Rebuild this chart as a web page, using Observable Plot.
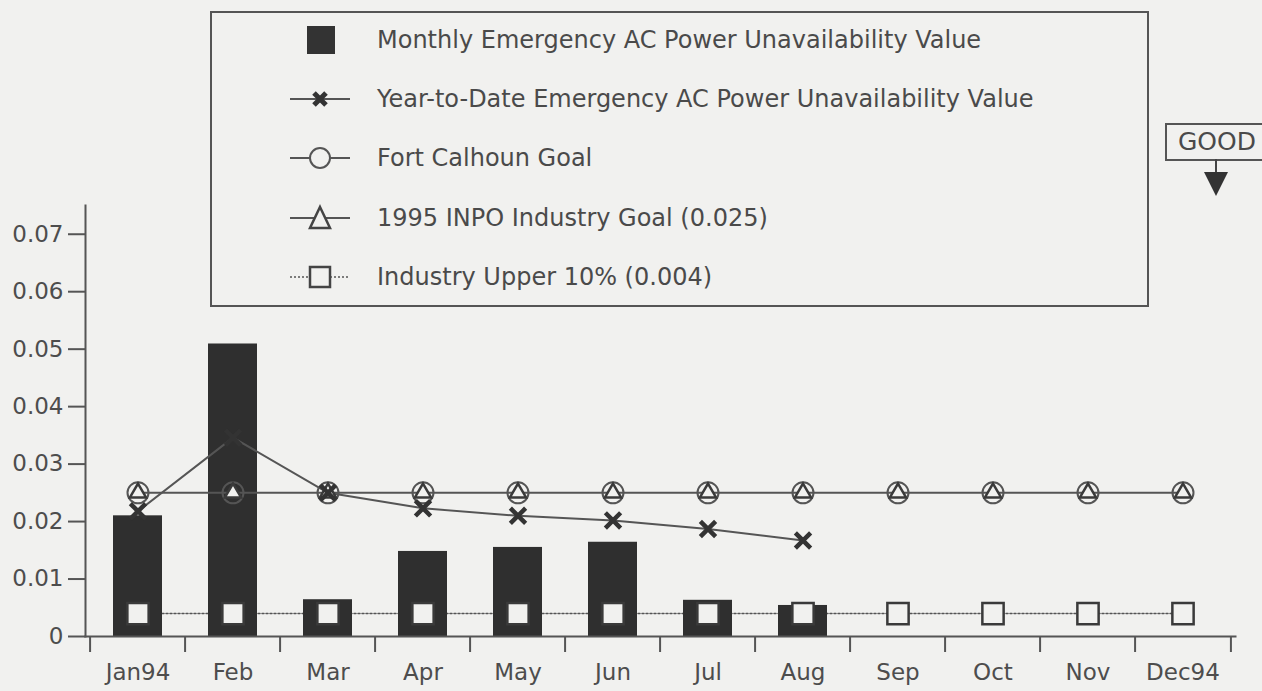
<!DOCTYPE html>
<html>
<head>
<meta charset="utf-8">
<script src="https://cdn.jsdelivr.net/npm/d3@7"></script>
<script src="https://cdn.jsdelivr.net/npm/@observablehq/plot@0.6"></script>
<style>
  html, body { margin: 0; padding: 0; background: #f1f1ef; }
  body { font-family: "DejaVu Sans", sans-serif; color: #4a4a4a; }
  #wrap { position: relative; width: 1262px; height: 691px; overflow: hidden; }
  #chart { position: absolute; left: 0; top: 0; }
  #legend { position: absolute; left: 210px; top: 11px; width: 939px; height: 296px;
            border: 2px solid #555; box-sizing: border-box; }
  .lrow { position: absolute; left: 0; width: 1262px; height: 30px; }
  .lrow svg { position: absolute; left: 286px; top: 0; }
  .lrow span { position: absolute; left: 377px; top: 0; line-height: 30px; font-size: 24px; white-space: nowrap; }
  #good { position: absolute; left: 1165px; top: 123px; width: 110px; height: 38px;
          border: 2px solid #555; box-sizing: border-box; font-size: 25px; line-height: 34px;
          padding-left: 11px; }
  #arrow { position: absolute; left: 1200px; top: 159px; }
</style>
</head>
<body>
<div id="wrap">
  <div id="chart"></div>
  <div id="legend"></div>
  <div id="legendRows"></div>
  <div id="good">GOOD</div>
  <svg id="arrow" width="32" height="40">
    <line x1="16" y1="0" x2="16" y2="14" stroke="#444" stroke-width="2"/>
    <path d="M4,13 L28,13 L16,37 Z" fill="#333"/>
  </svg>
</div>
<script>
// ---- data ----
const months = ["Jan94", "Feb", "Mar", "Apr", "May", "Jun", "Jul", "Aug", "Sep", "Oct", "Nov", "Dec94"];
const monthlyValues = [0.0210, 0.0509, 0.0064, 0.0148, 0.0155, 0.0164, 0.0063, 0.0054];
const ytdValues = [0.0218, 0.0346, 0.0250, 0.0223, 0.0210, 0.0202, 0.0187, 0.0167];
const fortCalhounGoal = [0.025, 0.025, 0.025, 0.025, 0.025, 0.025, 0.025, 0.025, 0.025, 0.025, 0.025, 0.025];
const inpoGoal = [0.025, 0.025, 0.025, 0.025, 0.025, 0.025, 0.025, 0.025, 0.025, 0.025, 0.025, 0.025];
const industryUpper10 = [0.004, 0.004, 0.004, 0.004, 0.004, 0.004, 0.004, 0.004, 0.004, 0.004, 0.004, 0.004];
const yTicks = [0, 0.01, 0.02, 0.03, 0.04, 0.05, 0.06, 0.07];
const legendLabels = [
  "Monthly Emergency AC Power Unavailability Value",
  "Year-to-Date Emergency AC Power Unavailability Value",
  "Fort Calhoun Goal",
  "1995 INPO Industry Goal (0.025)",
  "Industry Upper 10% (0.004)"
];

// ---- tables ----
const toRows = (vals) => vals.map((v, i) => ({month: months[i], value: v}));
const monthly = toRows(monthlyValues);
const ytd = toRows(ytdValues);
const fcGoal = toRows(fortCalhounGoal);
const inpo = toRows(inpoGoal);
const upper10 = toRows(industryUpper10);

const W = 1262, H = 691;
const mL = 85, mR = 27, mT = 205, mB = 55;
const step = (W - mL - mR) / months.length;
const ink = "#4d4d4d";
const bg = "#f1f1ef";
const fmt = d => d === 0 ? "0" : d.toFixed(2);

const chart = Plot.plot({
  width: W, height: H,
  marginLeft: mL, marginRight: mR, marginTop: mT, marginBottom: mB,
  style: {background: "transparent", fontFamily: "DejaVu Sans, sans-serif", fontSize: "23px", color: ink},
  x: {type: "band", domain: months, paddingInner: 0.48, paddingOuter: 0.24, axis: null},
  y: {domain: [0, 0.075], axis: null},
  marks: [
    Plot.lineY(upper10, {x: "month", y: "value", stroke: "#555", strokeWidth: 1.5, strokeDasharray: "2,2"}),
    Plot.barY(monthly, {x: "month", y: "value", fill: "#2f2f2f"}),
    Plot.frame({anchor: "left", stroke: "#555", strokeWidth: 2}),
    Plot.frame({anchor: "bottom", stroke: "#555", strokeWidth: 2}),
    Plot.axisY({ticks: yTicks, tickSize: 17, tickPadding: 5, tickFormat: fmt, label: null, stroke: "#555", strokeWidth: 2, fill: ink}),
    Plot.axisX({tickSize: 16, fill: "none", label: null, dx: -step / 2, stroke: "#555", strokeWidth: 2}),
    Plot.axisX({ticks: [months[months.length - 1]], tickSize: 16, fill: "none", label: null, dx: step / 2, stroke: "#555", strokeWidth: 2}),
    Plot.axisX({tickSize: 0, tickPadding: 27, label: null, fill: ink}),
    Plot.lineY(inpo, {x: "month", y: "value", stroke: "#555", strokeWidth: 2}),
    Plot.lineY(ytd, {x: "month", y: "value", stroke: "#555", strokeWidth: 2}),
    Plot.dot(upper10, {x: "month", y: "value", symbol: "square", r: 12, fill: bg, stroke: "#3a3a3a", strokeWidth: 2.5}),
    Plot.dot(fcGoal, {x: "month", y: "value", symbol: "circle", r: 10.5, fill: "none", stroke: "#555", strokeWidth: 2}),
    Plot.dot(inpo, {x: "month", y: "value", symbol: "triangle", r: 6, fill: bg, stroke: "#3a3a3a", strokeWidth: 2.5}),
    Plot.dot(ytd, {x: "month", y: "value", symbol: "times", r: 7, stroke: "#333", strokeWidth: 4.5})
  ]
});
document.getElementById("chart").appendChild(chart);

// ---- legend ----
const rowCenters = [40, 99, 158, 218, 277];
const sym = [
  `<rect x="21" y="1" width="28" height="28" fill="#333"/>`,
  `<line x1="4" y1="15" x2="64" y2="15" stroke="#555" stroke-width="2"/><path d="M28,9 L40,21 M28,21 L40,9" stroke="#333" stroke-width="5"/>`,
  `<line x1="4" y1="15" x2="64" y2="15" stroke="#555" stroke-width="2"/><circle cx="34" cy="15" r="10" fill="${bg}" stroke="#555" stroke-width="2"/>`,
  `<line x1="4" y1="15" x2="64" y2="15" stroke="#555" stroke-width="2"/><path d="M34,4 L44,25 L24,25 Z" fill="${bg}" stroke="#444" stroke-width="2.5"/>`,
  `<line x1="4" y1="15" x2="64" y2="15" stroke="#555" stroke-width="1.5" stroke-dasharray="2,2"/><rect x="24" y="5" width="20" height="20" fill="${bg}" stroke="#444" stroke-width="2.5"/>`
];
const rows = document.getElementById("legendRows");
legendLabels.forEach((label, i) => {
  const d = document.createElement("div");
  d.className = "lrow";
  d.style.top = (rowCenters[i] - 15) + "px";
  d.innerHTML = `<svg width="70" height="30">${sym[i]}</svg><span>${label}</span>`;
  rows.appendChild(d);
});
</script>
</body>
</html>
